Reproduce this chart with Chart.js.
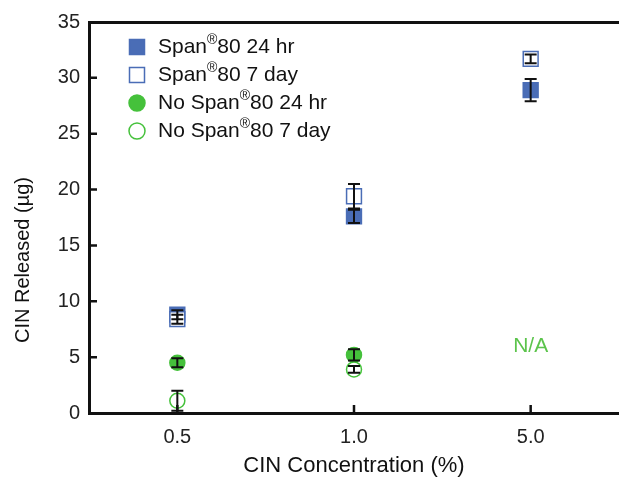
<!DOCTYPE html>
<html>
<head>
<meta charset="utf-8">
<script src="https://cdn.jsdelivr.net/npm/chart.js@4.4.1/dist/chart.umd.min.js"></script>
<style>
  html, body { margin: 0; padding: 0; background: #fff; overflow: hidden; }
  canvas { display: block; }
</style>
</head>
<body>
<canvas id="chart" width="619" height="479"></canvas>
<script>
// categories on the x axis (CIN concentration, %)
const categories = ["0.5", "1.0", "5.0"];

// CIN released (ug), mean and error
const span24 = [8.8, 17.6, 28.9];
const span24Err = [0.4, 0.6, 1.0];
const span7 = [8.4, 19.4, 31.7];
const span7Err = [0.4, 1.1, 0.4];
const noSpan24 = [4.5, 5.2, null];
const noSpan24Err = [0.4, 0.5, null];
const noSpan7 = [1.1, 3.9, null];
const noSpan7Err = [0.9, 0.3, null];

const seriesLabels = ["Span®80 24 hr", "Span®80 7 day", "No Span®80 24 hr", "No Span®80 7 day"];
const yTicks = [0, 5, 10, 15, 20, 25, 30, 35];

const BLUE = "#4a6db6";
const GREEN = "#45c13b";
const FONT = "'Liberation Sans', Arial, sans-serif";

// skip missing values (5.0 % has no "No Span" data)
function toPoints(values, errs) {
  const pts = [];
  values.forEach((v, i) => {
    if (v !== null) pts.push({ x: i, y: v, err: errs[i] });
  });
  return pts;
}

function makeSet(label, values, errs, style, filled, color, order) {
  return {
    label: label,
    data: toPoints(values, errs),
    pointStyle: style,
    pointRadius: style === "rect" ? 10.5 : 7.5,
    pointHoverRadius: style === "rect" ? 10.5 : 7.5,
    backgroundColor: filled ? color : "#ffffff",
    borderColor: color,
    borderWidth: 1.5,
    showLine: false,
    order: order,
  };
}

// vertical error bars with caps, drawn over the markers
const errorBars = {
  id: "errorBars",
  afterDatasetsDraw(chart) {
    const ctx = chart.ctx;
    const x = chart.scales.x;
    const y = chart.scales.y;
    ctx.save();
    ctx.strokeStyle = "#111";
    ctx.lineWidth = 2;
    chart.data.datasets.forEach((ds) => {
      ds.data.forEach((p) => {
        const px = x.getPixelForValue(p.x);
        const top = y.getPixelForValue(p.y + p.err);
        const bot = y.getPixelForValue(p.y - p.err);
        ctx.beginPath();
        ctx.moveTo(px, top);
        ctx.lineTo(px, bot);
        ctx.moveTo(px - 6, top);
        ctx.lineTo(px + 6, top);
        ctx.moveTo(px - 6, bot);
        ctx.lineTo(px + 6, bot);
        ctx.stroke();
      });
    });
    ctx.restore();
  },
};

// inward tick marks, legend with superscript, N/A note, y title
const decorations = {
  id: "decorations",
  afterDraw(chart) {
    const ctx = chart.ctx;
    const area = chart.chartArea;
    const x = chart.scales.x;
    const y = chart.scales.y;
    ctx.save();

    // tick marks pointing into the plot
    ctx.strokeStyle = "#111";
    ctx.lineWidth = 2.5;
    ctx.beginPath();
    yTicks.forEach((t) => {
      if (t === 0 || t === 35) return;
      const py = y.getPixelForValue(t);
      ctx.moveTo(area.left, py);
      ctx.lineTo(area.left + 8, py);
    });
    categories.forEach((c, i) => {
      const px = x.getPixelForValue(i);
      ctx.moveTo(px, area.bottom);
      ctx.lineTo(px, area.bottom - 8);
    });
    ctx.stroke();

    // legend
    const mx = area.left + 48;
    const tx = area.left + 69;
    chart.data.datasets.forEach((ds, i) => {
      const ry = area.top + 25 + i * 28;
      ctx.lineWidth = 1.5;
      ctx.fillStyle = ds.backgroundColor;
      ctx.strokeStyle = ds.borderColor;
      ctx.beginPath();
      if (ds.pointStyle === "rect") {
        ctx.rect(mx - 7.5, ry - 7.5, 15, 15);
      } else {
        ctx.arc(mx, ry, 8, 0, Math.PI * 2);
      }
      ctx.fill();
      ctx.stroke();

      const parts = ds.label.split("®");
      ctx.fillStyle = "#111";
      ctx.textBaseline = "middle";
      ctx.textAlign = "left";
      ctx.font = "21px " + FONT;
      let cx = tx;
      ctx.fillText(parts[0], cx, ry);
      cx += ctx.measureText(parts[0]).width;
      ctx.font = "14px " + FONT;
      ctx.fillText("®", cx, ry - 7);
      cx += ctx.measureText("®").width;
      ctx.font = "21px " + FONT;
      ctx.fillText(parts[1], cx, ry);
    });

    // no data for the 5.0 % without Span 80
    ctx.fillStyle = "#5cc44c";
    ctx.font = "21px " + FONT;
    ctx.textAlign = "center";
    ctx.textBaseline = "middle";
    ctx.fillText("N/A", x.getPixelForValue(2), y.getPixelForValue(6));

    // y axis title
    ctx.fillStyle = "#111";
    ctx.font = "20px " + FONT;
    ctx.translate(23, 260);
    ctx.rotate(-Math.PI / 2);
    ctx.fillText("CIN Released (\u00b5g)", 0, 0);
    ctx.restore();
  },
};

new Chart(document.getElementById("chart"), {
  type: "scatter",
  data: {
    datasets: [
      makeSet(seriesLabels[0], span24, span24Err, "rect", true, BLUE, 2),
      makeSet(seriesLabels[1], span7, span7Err, "rect", false, BLUE, 1),
      makeSet(seriesLabels[2], noSpan24, noSpan24Err, "circle", true, GREEN, 2),
      makeSet(seriesLabels[3], noSpan7, noSpan7Err, "circle", false, GREEN, 1),
    ],
  },
  options: {
    responsive: false,
    devicePixelRatio: 1,
    animation: false,
    layout: { padding: 0, autoPadding: false },
    plugins: {
      legend: { display: false },
      tooltip: { enabled: false },
    },
    scales: {
      x: {
        type: "linear",
        position: "bottom",
        min: -0.5,
        max: 2.5,
        afterBuildTicks: (s) => {
          s.ticks = categories.map((c, i) => ({ value: i }));
        },
        afterFit: (s) => {
          s.height = 66;
        },
        ticks: {
          callback: (v) => categories[v],
          color: "#222",
          font: { family: FONT, size: 20 },
          padding: 12,
          maxRotation: 0,
        },
        grid: { drawOnChartArea: false, drawTicks: false },
        border: { color: "#111", width: 3 },
        title: {
          display: true,
          text: "CIN Concentration (%)",
          color: "#111",
          font: { family: FONT, size: 22 },
          padding: { top: 0, bottom: 0 },
        },
      },
      xTop: {
        type: "linear",
        position: "top",
        min: -0.5,
        max: 2.5,
        afterFit: (s) => {
          s.height = 22;
        },
        ticks: { display: false },
        grid: { drawOnChartArea: false, drawTicks: false },
        border: { color: "#111", width: 3 },
      },
      y: {
        min: 0,
        max: 35,
        afterBuildTicks: (s) => {
          s.ticks = yTicks.map((v) => ({ value: v }));
        },
        afterFit: (s) => {
          s.width = 89;
        },
        ticks: {
          color: "#222",
          font: { family: FONT, size: 20 },
          padding: 9,
        },
        grid: { drawOnChartArea: false, drawTicks: false },
        border: { color: "#111", width: 3 },
      },
    },
  },
  plugins: [errorBars, decorations],
});
</script>
</body>
</html>
